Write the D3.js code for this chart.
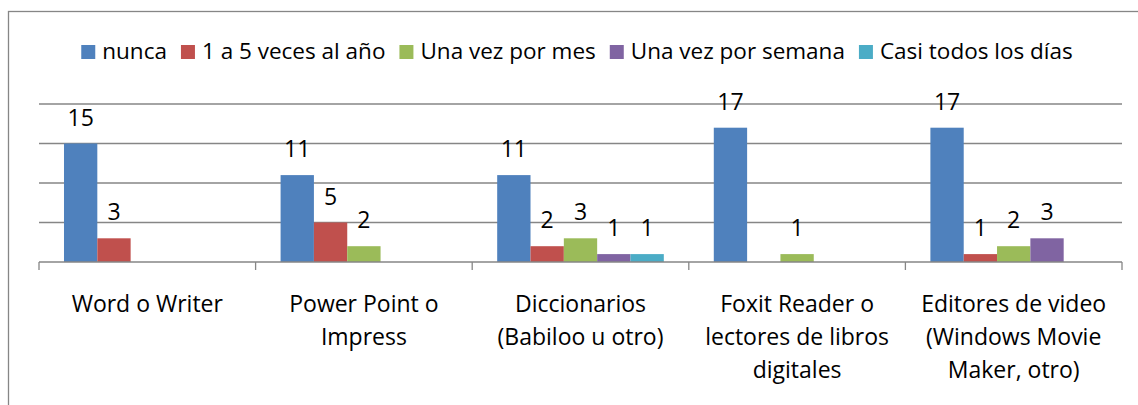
<!DOCTYPE html>
<meta charset="utf-8">
<script src="https://d3js.org/d3.v7.min.js"></script>
<style>
  body { margin: 0; background: #fff; }
  svg text { font-family: "Open Sans", "Noto Sans", sans-serif; fill: #000; }
</style>
<div id="my_dataviz"></div>
<script>
// categories (one array of lines per tick label)
var categories = ["Word o Writer", "Power Point o Impress", "Diccionarios (Babiloo u otro)",
                  "Foxit Reader o lectores de libros digitales", "Editores de video (Windows Movie Maker, otro)"];
var tickLines = [
  ["Word o Writer"],
  ["Power Point o", "Impress"],
  ["Diccionarios", "(Babiloo u otro)"],
  ["Foxit Reader o", "lectores de libros", "digitales"],
  ["Editores de video", "(Windows Movie", "Maker, otro)"]
];
var seriesNames = ["nunca", "1 a 5 veces al año", "Una vez por mes", "Una vez por semana", "Casi todos los días"];
var nunca   = [15, 11, 11, 17, 17];
var anual   = [3, 5, 2, 0, 1];
var mensual = [0, 2, 3, 1, 2];
var semanal = [0, 0, 1, 0, 3];
var diario  = [0, 0, 1, 0, 0];
var colors = ["#4F81BD", "#C0504D", "#9BBB59", "#8064A2", "#4BACC6"];
var yTicks = [0, 5, 10, 15, 20];

var seriesValues = [nunca, anual, mensual, semanal, diario];

var W = 1138, H = 405;
var fontSize = 23, legendFont = 22.5;

var svg = d3.select("#my_dataviz")
  .append("svg")
    .attr("width", W)
    .attr("height", H);

// outer chart border (runs off the right and bottom edges)
svg.append("rect")
  .attr("x", 8.5).attr("y", 11.5)
  .attr("width", 1150).attr("height", 420)
  .attr("fill", "none")
  .attr("stroke", "#868686")
  .attr("stroke-width", 1.3);

var x = d3.scaleBand()
  .domain(categories)
  .range([39, 1122])
  .paddingInner(0).paddingOuter(0);

var xs = d3.scaleBand()
  .domain(seriesNames)
  .range([0, x.bandwidth()])
  .paddingInner(0).paddingOuter(0.75);

var y = d3.scaleLinear()
  .domain([0, 20])
  .range([262, 104]);

// gridlines
svg.append("g")
  .selectAll("line")
  .data(yTicks.slice(1))
  .enter()
  .append("line")
    .attr("x1", 39).attr("x2", 1122)
    .attr("y1", function(d) { return y(d); })
    .attr("y2", function(d) { return y(d); })
    .attr("stroke", "#868686")
    .attr("stroke-width", 1.3);

// bars + labels
seriesNames.forEach(function(name, si) {
  var data = seriesValues[si].map(function(v, i) { return {cat: categories[i], v: v}; })
    .filter(function(d) { return d.v > 0; });
  var g = svg.append("g");
  g.selectAll("rect")
    .data(data)
    .enter()
    .append("rect")
      .attr("x", function(d) { return x(d.cat) + xs(name); })
      .attr("y", function(d) { return y(d.v); })
      .attr("width", xs.bandwidth())
      .attr("height", function(d) { return y(0) - y(d.v); })
      .attr("fill", colors[si]);
  g.selectAll("text")
    .data(data)
    .enter()
    .append("text")
      .attr("x", function(d) { return x(d.cat) + xs(name) + xs.bandwidth() / 2; })
      .attr("y", function(d) { return y(d.v) - 18; })
      .attr("text-anchor", "middle")
      .style("font-size", fontSize + "px")
      .text(function(d) { return d.v; });
});

// x axis
var xAxis = svg.append("g")
  .attr("transform", "translate(0," + y(0) + ")");
xAxis.append("line")
  .attr("x1", 39).attr("x2", 1122)
  .attr("stroke", "#868686").attr("stroke-width", 1.3);
var bounds = categories.map(function(c) { return x(c); }).concat([x.range()[1]]);
xAxis.selectAll("line.tick")
  .data(bounds)
  .enter()
  .append("line")
    .attr("class", "tick")
    .attr("x1", function(d) { return d; }).attr("x2", function(d) { return d; })
    .attr("y1", 0).attr("y2", 8)
    .attr("stroke", "#868686").attr("stroke-width", 1.3);

// category labels
categories.forEach(function(c, i) {
  var t = svg.append("text")
    .attr("text-anchor", "middle")
    .style("font-size", fontSize + "px");
  tickLines[i].forEach(function(line, j) {
    t.append("tspan")
      .attr("x", x(c) + x.bandwidth() / 2)
      .attr("y", 312 + j * 33)
      .text(line);
  });
});

// legend
var legend = svg.append("g");
var items = legend.selectAll("g")
  .data(seriesNames)
  .enter()
  .append("g");
items.append("rect")
  .attr("y", 45).attr("width", 14).attr("height", 14)
  .attr("fill", function(d, i) { return colors[i]; });
items.append("text")
  .attr("x", 21).attr("y", 59)
  .style("font-size", legendFont + "px")
  .text(function(d) { return d; });
var gap = 14, pos = 0, widths = [];
items.each(function() {
  var w = 21 + this.querySelector("text").getComputedTextLength();
  widths.push(w);
});
var total = d3.sum(widths) + gap * (widths.length - 1);
pos = 577 - total / 2;
items.attr("transform", function(d, i) {
  var p = pos;
  pos += widths[i] + gap;
  return "translate(" + p + ",0)";
});
</script>
